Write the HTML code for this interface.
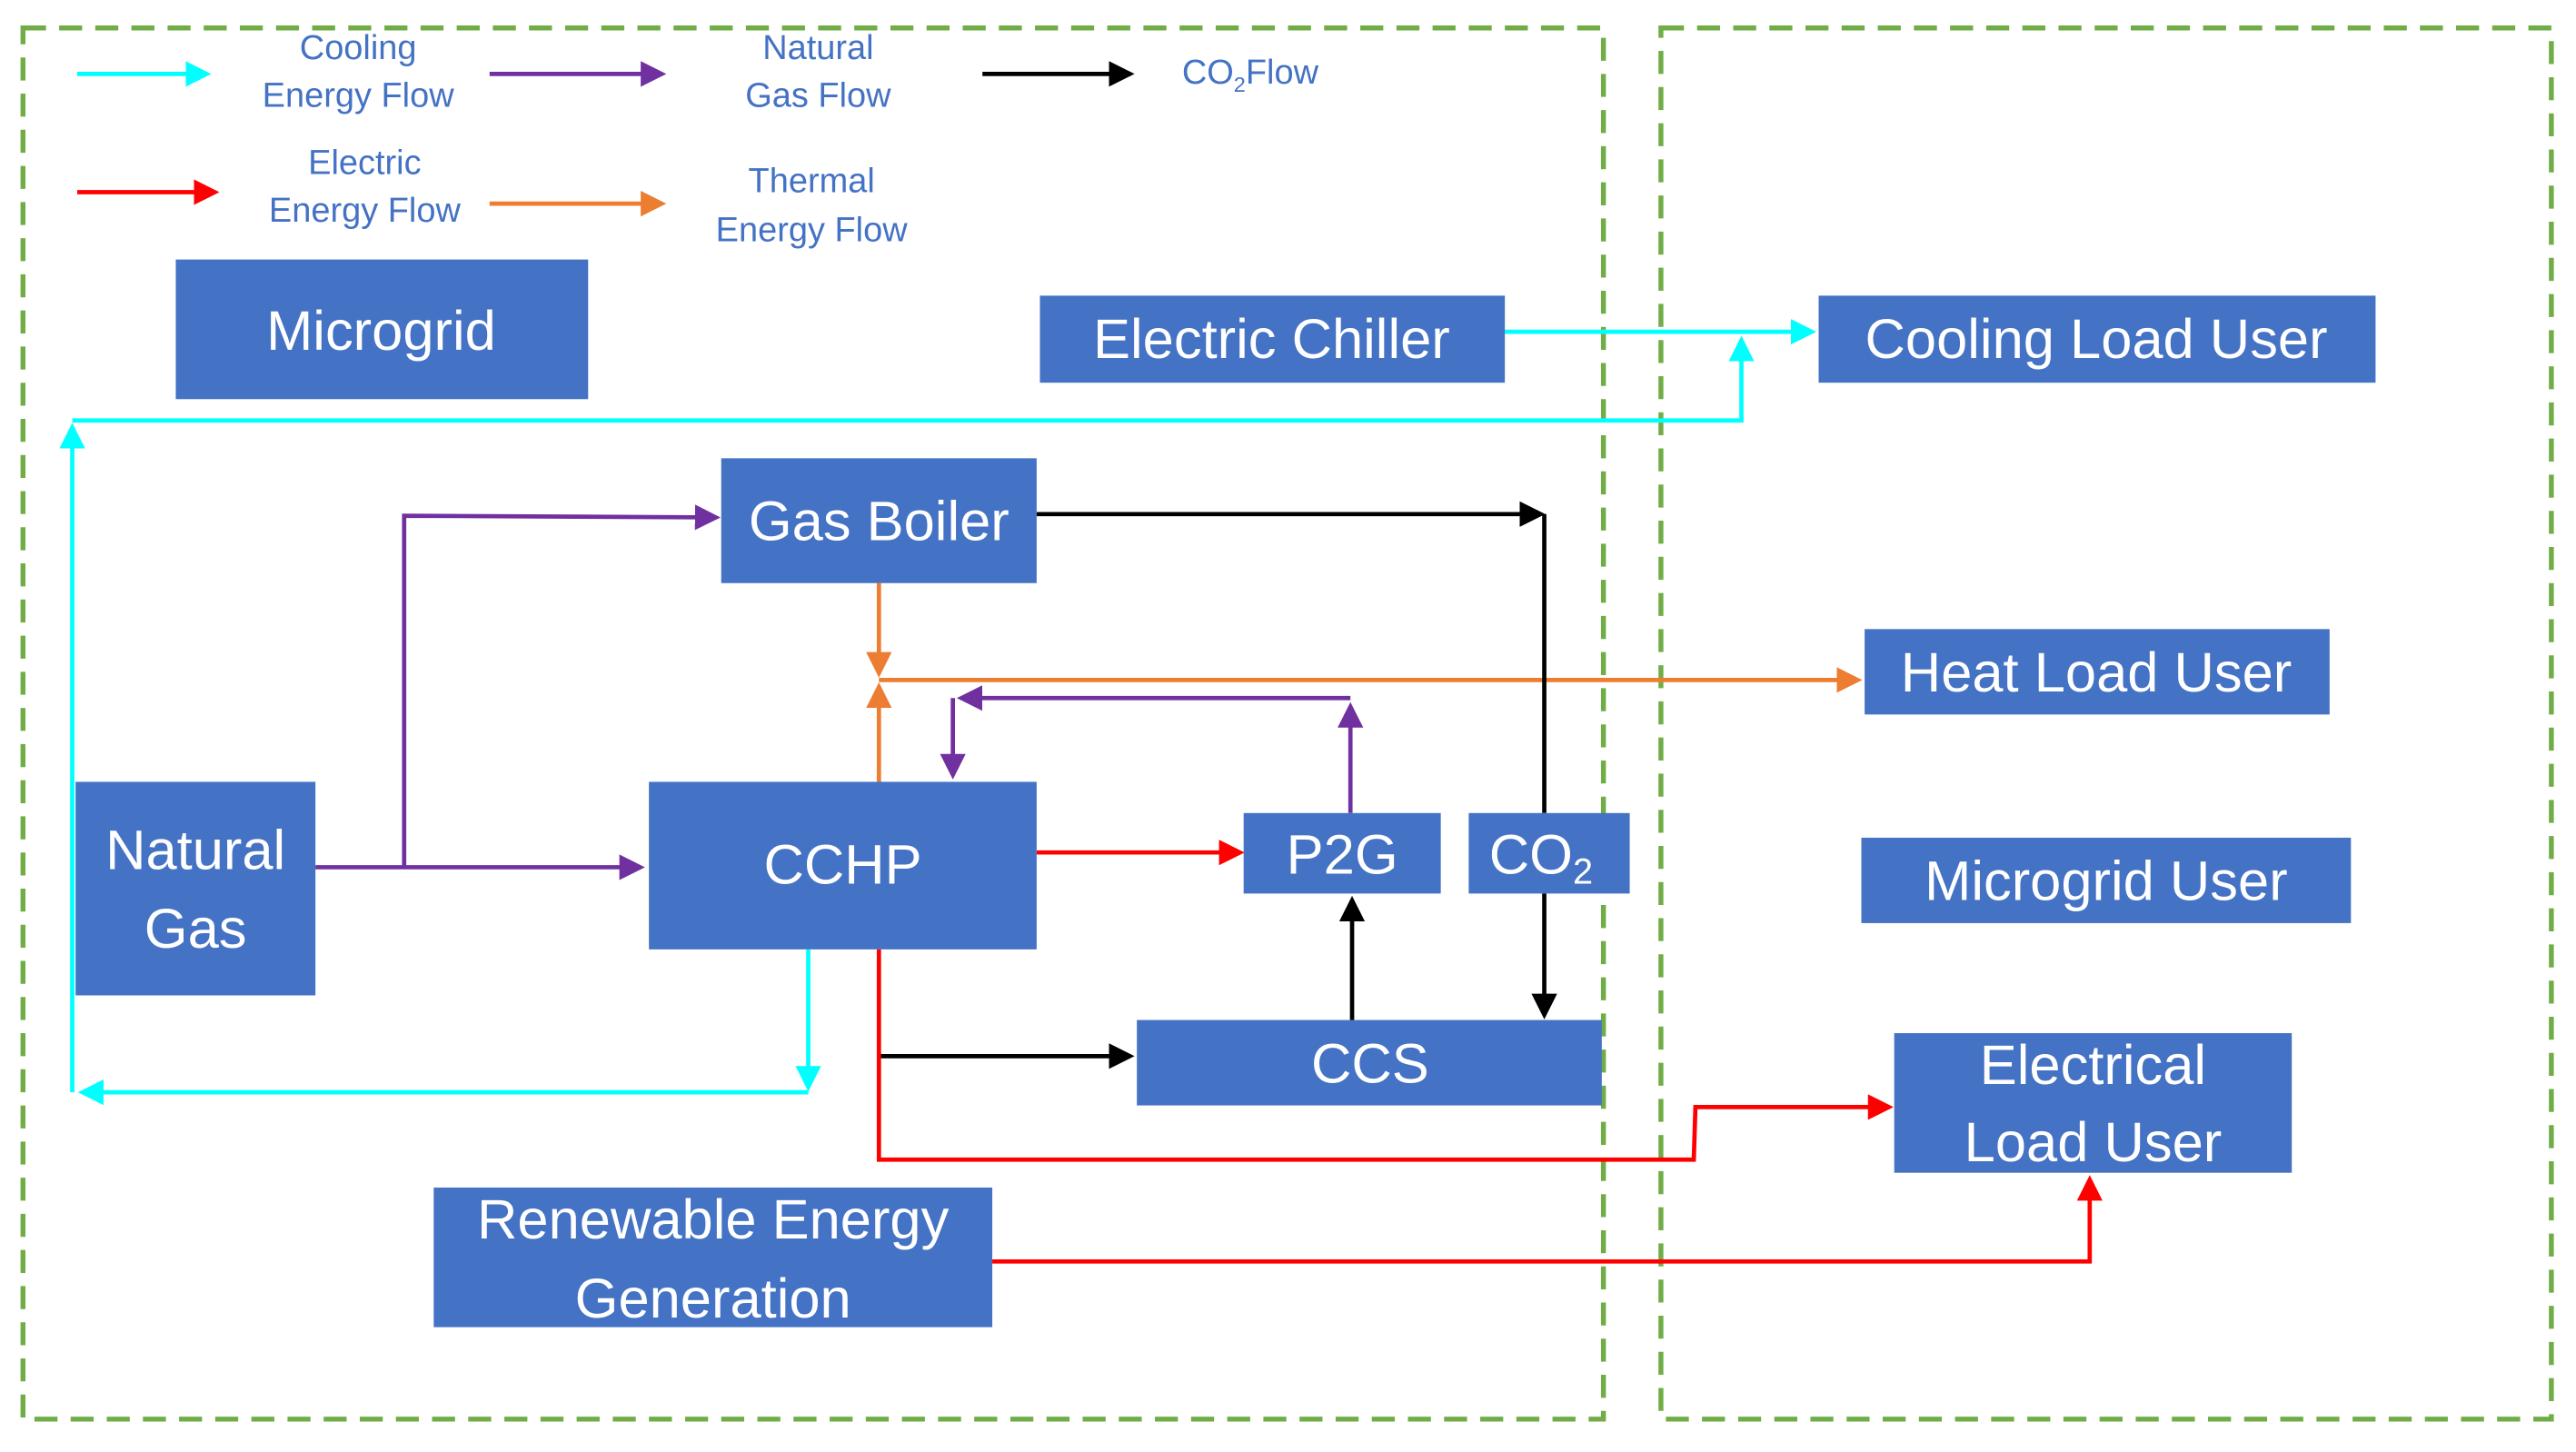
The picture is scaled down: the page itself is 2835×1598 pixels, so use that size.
<!DOCTYPE html>
<html><head><meta charset="utf-8"><style>
html,body{margin:0;padding:0;background:#fff;}
svg{display:block;}
text{font-family:"Liberation Sans",sans-serif;}
</style></head><body>
<svg width="2835" height="1598" viewBox="0 0 1568 884" preserveAspectRatio="none" xmlns="http://www.w3.org/2000/svg">
<defs>
<marker id="c" markerWidth="6" markerHeight="6" refX="5" refY="3" orient="auto" markerUnits="strokeWidth"><path d="M0,0 L6,3 L0,6 z" fill="#00ffff"/></marker>
<marker id="p" markerWidth="6" markerHeight="6" refX="5" refY="3" orient="auto" markerUnits="strokeWidth"><path d="M0,0 L6,3 L0,6 z" fill="#7030a0"/></marker>
<marker id="k" markerWidth="6" markerHeight="6" refX="5" refY="3" orient="auto" markerUnits="strokeWidth"><path d="M0,0 L6,3 L0,6 z" fill="#000"/></marker>
<marker id="r" markerWidth="6" markerHeight="6" refX="5" refY="3" orient="auto" markerUnits="strokeWidth"><path d="M0,0 L6,3 L0,6 z" fill="#ff0000"/></marker>
<marker id="o" markerWidth="6" markerHeight="6" refX="5" refY="3" orient="auto" markerUnits="strokeWidth"><path d="M0,0 L6,3 L0,6 z" fill="#ed7d31"/></marker>
</defs>
<g fill="none" stroke="#70ad47" stroke-width="3" stroke-dasharray="14,8">
<rect x="14" y="17" width="962" height="847"/>
<rect x="1011" y="17" width="542" height="847"/>
</g>
<!-- legend -->
<g stroke-width="2.6" fill="none">
<line x1="47" y1="45" x2="126" y2="45" stroke="#00ffff" marker-end="url(#c)"/>
<line x1="298" y1="45" x2="403" y2="45" stroke="#7030a0" marker-end="url(#p)"/>
<line x1="598" y1="45" x2="688" y2="45" stroke="#000" marker-end="url(#k)"/>
<line x1="47" y1="117" x2="131" y2="117" stroke="#ff0000" marker-end="url(#r)"/>
<line x1="298" y1="124" x2="403" y2="124" stroke="#ed7d31" marker-end="url(#o)"/>
</g>
<g fill="#4472c4" font-size="21" text-anchor="middle">
<text x="218" y="36">Cooling</text><text x="218" y="65">Energy Flow</text>
<text x="498" y="36">Natural</text><text x="498" y="65">Gas Flow</text>
<text x="761" y="51">CO<tspan font-size="13" dy="5">2</tspan><tspan dy="-5">Flow</tspan></text>
<text x="222" y="106">Electric</text><text x="222" y="135">Energy Flow</text>
<text x="494" y="117">Thermal</text><text x="494" y="147">Energy Flow</text>
</g>
<!-- connectors -->
<g fill="none" stroke-width="2.6">
<line x1="916" y1="202" x2="1103" y2="202" stroke="#00ffff" marker-end="url(#c)"/>
<polyline points="44,256 1060,256 1060,207" stroke="#00ffff" marker-end="url(#c)"/>
<line x1="44" y1="665" x2="44" y2="260" stroke="#00ffff" marker-end="url(#c)"/>
<line x1="492" y1="578" x2="492" y2="662" stroke="#00ffff" marker-end="url(#c)"/>
<line x1="492" y1="665" x2="50" y2="665" stroke="#00ffff" marker-end="url(#c)"/>
<line x1="192" y1="528" x2="390" y2="528" stroke="#7030a0" marker-end="url(#p)"/>
<polyline points="246,528 246,314 436,315" stroke="#7030a0" marker-end="url(#p)"/>
<line x1="822" y1="495" x2="822" y2="430" stroke="#7030a0" marker-end="url(#p)"/>
<line x1="822" y1="425" x2="585" y2="425" stroke="#7030a0" marker-end="url(#p)"/>
<line x1="580" y1="425" x2="580" y2="472" stroke="#7030a0" marker-end="url(#p)"/>
<line x1="535" y1="355" x2="535" y2="410" stroke="#ed7d31" marker-end="url(#o)"/>
<line x1="535" y1="476" x2="535" y2="418" stroke="#ed7d31" marker-end="url(#o)"/>
<line x1="535" y1="414" x2="1131" y2="414" stroke="#ed7d31" marker-end="url(#o)"/>
<line x1="631" y1="313" x2="938" y2="313" stroke="#000" marker-end="url(#k)"/>
<line x1="940" y1="313" x2="940" y2="495" stroke="#000"/>
<line x1="940" y1="544" x2="940" y2="618" stroke="#000" marker-end="url(#k)"/>
<line x1="823" y1="621" x2="823" y2="548" stroke="#000" marker-end="url(#k)"/>
<line x1="535" y1="643" x2="688" y2="643" stroke="#000" marker-end="url(#k)"/>
<line x1="631" y1="519" x2="755" y2="519" stroke="#ff0000" marker-end="url(#r)"/>
<polyline points="535,578 535,706 1031,706 1032,674 1150,674" stroke="#ff0000" marker-end="url(#r)"/>
<polyline points="604,768 1272,768 1272,718" stroke="#ff0000" marker-end="url(#r)"/>
</g>
<!-- boxes -->
<g fill="#4472c4">
<rect x="107" y="158" width="251" height="85"/>
<rect x="633" y="180" width="283" height="53"/>
<rect x="1107" y="180" width="339" height="53"/>
<rect x="439" y="279" width="192" height="76"/>
<rect x="1135" y="383" width="283" height="52"/>
<rect x="46" y="476" width="146" height="130"/>
<rect x="395" y="476" width="236" height="102"/>
<rect x="757" y="495" width="120" height="49"/>
<rect x="894" y="495" width="98" height="49"/>
<rect x="1133" y="510" width="298" height="52"/>
<rect x="692" y="621" width="283" height="52"/>
<rect x="1153" y="629" width="242" height="85"/>
<rect x="264" y="723" width="340" height="85"/>
</g>
<g fill="#fff" font-size="34" text-anchor="middle">
<text x="232" y="213">Microgrid</text>
<text x="774" y="218">Electric Chiller</text>
<text x="1276" y="218">Cooling Load User</text>
<text x="535" y="329">Gas Boiler</text>
<text x="1276" y="421">Heat Load User</text>
<text x="119" y="529">Natural</text><text x="119" y="577">Gas</text>
<text x="513" y="538">CCHP</text>
<text x="817" y="532">P2G</text>
<text x="938" y="532">CO<tspan font-size="22" dy="6">2</tspan></text>
<text x="1282" y="548">Microgrid User</text>
<text x="834" y="659">CCS</text>
<text x="1274" y="660">Electrical</text><text x="1274" y="707">Load User</text>
<text x="434" y="754">Renewable Energy</text><text x="434" y="802">Generation</text>
</g>
</svg>
</body></html>
